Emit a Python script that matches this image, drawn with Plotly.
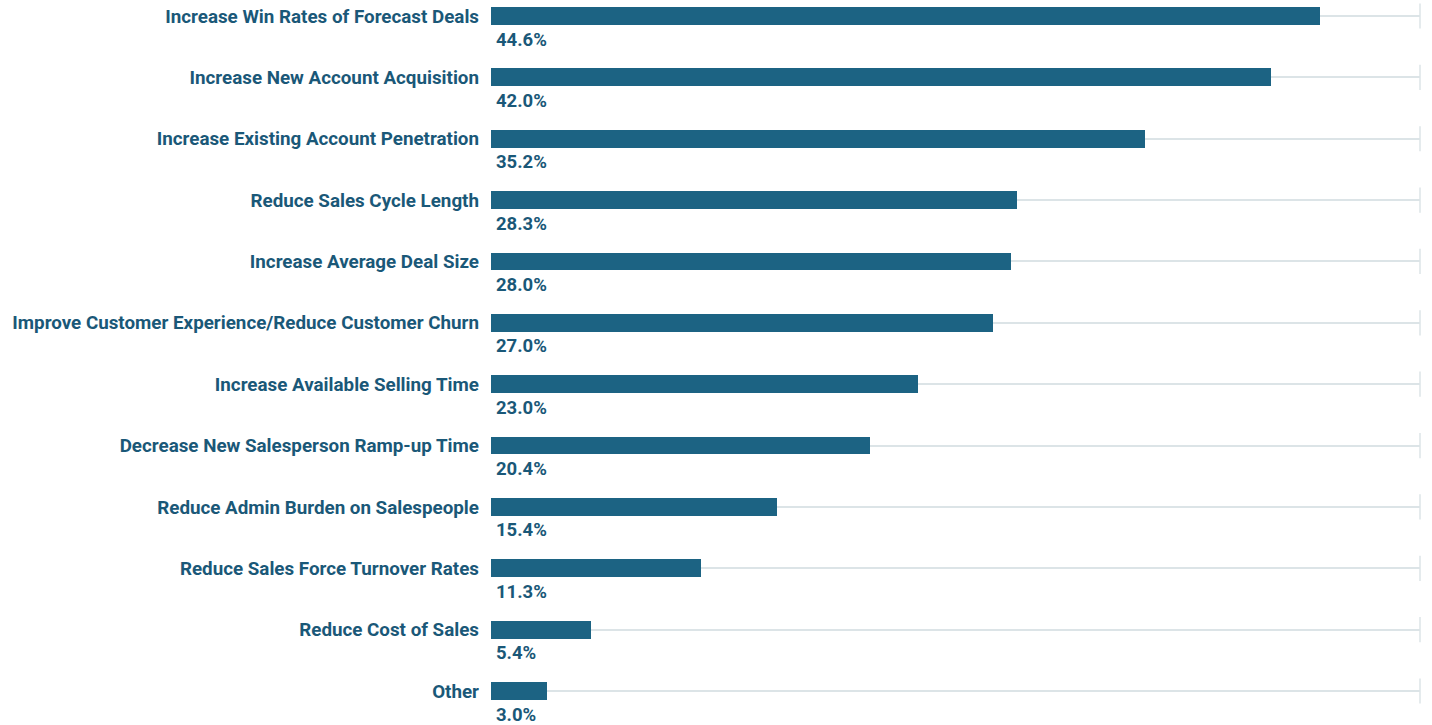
import plotly.graph_objects as go

categories = [
    "Increase Win Rates of Forecast Deals",
    "Increase New Account Acquisition",
    "Increase Existing Account Penetration",
    "Reduce Sales Cycle Length",
    "Increase Average Deal Size",
    "Improve Customer Experience/Reduce Customer Churn",
    "Increase Available Selling Time",
    "Decrease New Salesperson Ramp-up Time",
    "Reduce Admin Burden on Salespeople",
    "Reduce Sales Force Turnover Rates",
    "Reduce Cost of Sales",
    "Other",
]
values = [44.6, 42.0, 35.2, 28.3, 28.0, 27.0, 23.0, 20.4, 15.4, 11.3, 5.4, 3.0]
value_labels = [f"{v:.1f}%" for v in values]
axis_max = 50

BAR = "#1c6383"
TEXT = "#1a5878"
GRID = "#dce4e7"
FONT = "Roboto"

fig = go.Figure()
fig.add_trace(go.Bar(
    x=values, y=categories, orientation="h",
    marker=dict(color=BAR, line=dict(width=0)),
    width=0.29, hoverinfo="skip", showlegend=False,
))
# end ticks on grid lines
fig.add_trace(go.Scatter(
    x=[axis_max] * len(categories), y=categories, mode="markers",
    marker=dict(symbol="line-ns-open", size=18, color=GRID,
                line=dict(color=GRID, width=1.5)),
    hoverinfo="skip", showlegend=False, cliponaxis=False,
))
for c, lab in zip(categories, value_labels):
    fig.add_annotation(
        x=0, y=c, text=lab, showarrow=False, xanchor="left", yanchor="middle",
        xshift=3, yshift=-23.5,
        font=dict(family=FONT, size=18.5, color=TEXT, weight="bold"),
    )

fig.update_layout(
    width=1432, height=725,
    margin=dict(l=491, r=12, t=0, b=0),
    plot_bgcolor="white", paper_bgcolor="white",
    bargap=0,
    xaxis=dict(range=[0, axis_max], showgrid=False, zeroline=False,
               showticklabels=False, showline=False, fixedrange=True),
    yaxis=dict(categoryorder="array", categoryarray=categories,
               range=[11.554, -0.261], showgrid=True, gridcolor=GRID, gridwidth=1.5,
               zeroline=False, showline=False, ticks="", ticklabelstandoff=11,
               tickfont=dict(family=FONT, size=18.8, color=TEXT, weight="bold")),
)
fig.write_html("out.html", config={"displayModeBar": False},
               post_script="document.body.style.margin='0';")
